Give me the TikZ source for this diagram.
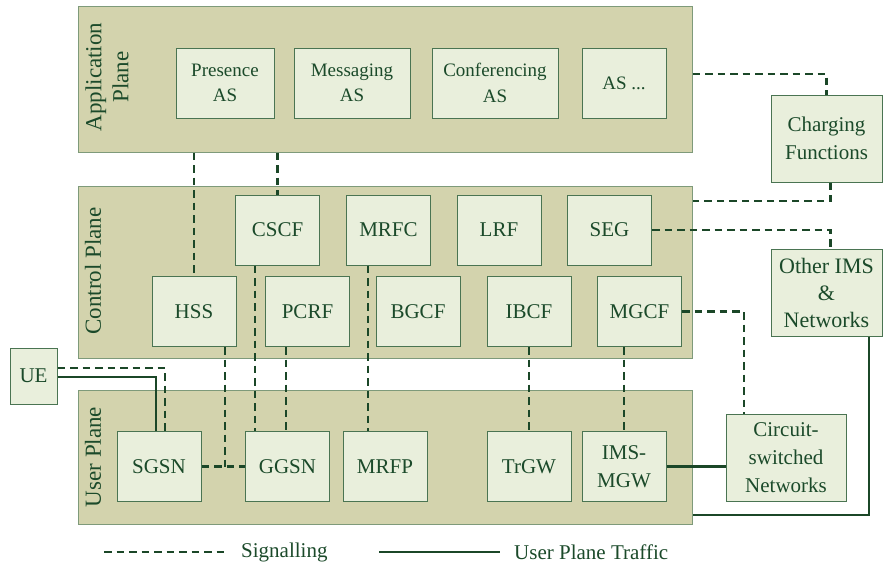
\documentclass[tikz,border=0pt]{standalone}
\usepackage{fontspec}
\setmainfont{Liberation Serif}
\usepackage{tikz}
\definecolor{planefill}{HTML}{D3D3AD}
\definecolor{planeline}{HTML}{7E9A7A}
\definecolor{boxfill}{HTML}{E9EFDC}
\definecolor{boxline}{HTML}{4A7452}
\definecolor{txt}{HTML}{1B4A2A}
\definecolor{wire}{HTML}{1B4728}
\tikzset{
  plane/.style={draw=planeline, fill=planefill, line width=1pt, inner sep=0pt},
  planelabel/.style={text=txt, rotate=90, align=center, font=\fontsize{23}{27}\selectfont},
  func/.style={draw=boxline, fill=boxfill, text=txt, line width=1pt, align=center,
    inner sep=0pt, minimum width=84pt, minimum height=70pt, font=\fontsize{21}{28}\selectfont},
  appfunc/.style={func, font=\fontsize{19}{25.5}\selectfont},
  sig/.style={draw=wire, line width=2.6pt, dash pattern=on 7.5pt off 5pt},
  traf/.style={draw=wire, line width=2.6pt},
  legendtext/.style={text=txt, right, inner sep=0pt, font=\fontsize{21}{25}\selectfont}
}

\begin{document}
\begin{tikzpicture}[x=1pt, y=-1pt]
            \useasboundingbox (0,0) rectangle (883,568);

            % Planes
            \node [plane, minimum width=614pt, minimum height=146pt] (appplane) at (385,79) {};
            \node [plane, minimum width=614pt, minimum height=172pt] (ctrlplane) at (385,272) {};
            \node [plane, minimum width=614pt, minimum height=134pt] (userplane) at (385,457) {};
            \node [planelabel] (applabel) at (107,77) {Application\\Plane};
            \node [planelabel] (ctrllabel) at (93,271) {Control Plane};
            \node [planelabel] (userlabel) at (93,457) {User Plane};

            % Application Plane
            \node [appfunc, minimum width=98pt] (presence) at (225,83) {Presence\\AS};
            \node [appfunc, minimum width=116pt] (messaging) at (352,83) {Messaging\\AS};
            \node [appfunc, minimum width=126pt] (conferencing) at (495,83) {Conferencing\\AS};
            \node [appfunc] (asdots) at (624,83) {AS ...};

            % Control Plane
            \node [func] (cscf) at (277.5,230) {CSCF};
            \node [func] (mrfc) at (388.5,230) {MRFC};
            \node [func] (lrf) at (499,230) {LRF};
            \node [func] (seg) at (609.5,230) {SEG};
            \node [func] (hss) at (194,311.5) {HSS};
            \node [func] (pcrf) at (307.5,311.5) {PCRF};
            \node [func] (bgcf) at (418,311.5) {BGCF};
            \node [func] (ibcf) at (529,311.5) {IBCF};
            \node [func] (mgcf) at (639.5,311.5) {MGCF};

            % User Plane
            \node [func] (sgsn) at (159,466.5) {SGSN};
            \node [func] (ggsn) at (287.5,466.5) {GGSN};
            \node [func] (mrfp) at (385,466.5) {MRFP};
            \node [func] (trgw) at (529,466.5) {TrGW};
            \node [func] (imsmgw) at (624,466.5) {IMS-\\MGW};

            % Outside
            \node [func, minimum width=47pt, minimum height=56pt] (ue) at (33.5,376) {UE};
            \node [func, minimum width=111pt, minimum height=87pt] (charging) at (826.5,138.5) {Charging\\Functions};
            \node [func, minimum width=111pt, minimum height=87pt, font=\fontsize{22}{27}\selectfont] (otherims) at (826.5,292.5) {Other IMS\\\&\\Networks};
            \node [func, minimum width=120pt, minimum height=87pt] (circuit) at (786,457.5) {Circuit-\\switched\\Networks};

            % Signalling
            \draw [sig] (hss.north |- appplane.south) -- (hss.north);
            \draw [sig] (cscf.north |- appplane.south) -- (cscf.north);
            \draw [sig] (appplane.east |- 0,74) -| (charging.north);
            \draw [sig] ([xshift=4pt]charging.south) |- (ctrlplane.east |- 0,201);
            \draw [sig] (seg.east) -| ([xshift=4pt]otherims.north);
            \draw [sig] (mgcf.east) -| ([xshift=-42pt]circuit.north);
            \draw [sig] (ibcf.south) -- (trgw.north);
            \draw [sig] (imsmgw.north |- mgcf.south) -- (imsmgw.north);
            \draw [sig] ([xshift=-17pt]mrfp.north |- mrfc.south) -- ([xshift=-17pt]mrfp.north);
            \draw [sig] ([xshift=-32.5pt]ggsn.north |- cscf.south) -- ([xshift=-32.5pt]ggsn.north);
            \draw [sig] ([xshift=-1.5pt]ggsn.north |- pcrf.south) -- ([xshift=-1.5pt]ggsn.north);
            \draw [sig] (sgsn.east) -- (ggsn.west);
            \draw [sig] ([xshift=31pt]hss.south) -- ([xshift=31pt]hss.south |- sgsn.east);
            \draw [sig] ([yshift=8pt]ue.east) -| ([xshift=6pt]sgsn.north);

            % User Plane Traffic
            \draw [traf] ([yshift=-1pt]ue.east) -| ([xshift=-3pt]sgsn.north);
            \draw [traf] (imsmgw.east) -- (imsmgw.east -| circuit.west);
            \draw [traf] ([xshift=42.5pt]otherims.south) |- (userplane.east |- 0,515);

            % Legend
            \coordinate (sigstart) at (104,552);
            \coordinate (sigend) at (227,552);
            \coordinate (trafstart) at (379,552);
            \coordinate (trafend) at (500,552);
            \draw [sig] (sigstart) -- (sigend);
            \node [legendtext] (siglabel) at ([xshift=14pt]sigend) {Signalling};
            \draw [traf] (trafstart) -- (trafend);
            \node [legendtext] (traflabel) at ([xshift=14pt]trafend) {User Plane Traffic};
        \end{tikzpicture}
\end{document}
